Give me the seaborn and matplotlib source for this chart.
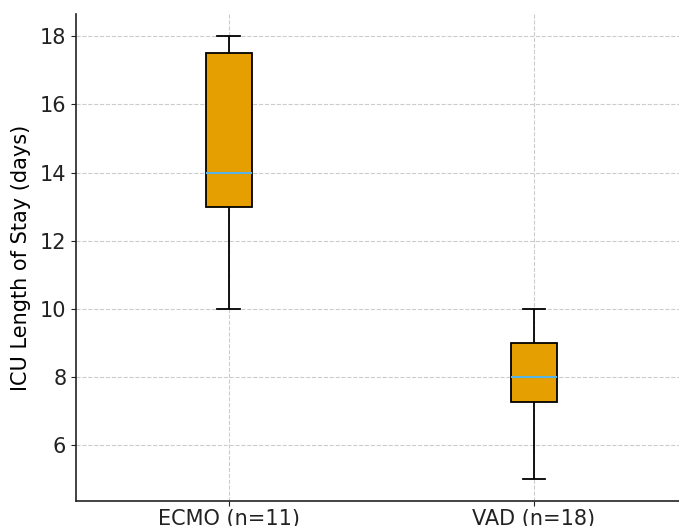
import numpy as np
import pandas as pd
import matplotlib
matplotlib.use("Agg")
import matplotlib.pyplot as plt
import seaborn as sns

# ICU length of stay (days)
groups = ["ECMO (n=11)", "VAD (n=18)"]
ecmo_days = [10, 12, 13, 13, 13.5, 14, 15, 17, 18, 18, 18]
vad_days = [5, 6, 6.5, 7, 7, 8, 8, 8, 8, 8, 8.5, 8.5, 9, 9, 9, 9.5, 10, 10]

df = pd.DataFrame({
    "group": [groups[0]] * len(ecmo_days) + [groups[1]] * len(vad_days),
    "days": ecmo_days + vad_days,
})

fig = plt.figure(figsize=(6.79, 5.26), dpi=100)
ax = fig.add_axes([0.112, 0.0475, 0.888, 0.9255])

sns.boxplot(data=df, x="group", y="days", order=groups, width=0.15,
            color="#E69F00", saturation=1, linecolor="black", linewidth=1.3,
            medianprops=dict(color="#56B4E9", linewidth=1.5),
            whis=1.5, showfliers=False, ax=ax)

ax.set_xlim(-0.5, 1.475)
ax.set_ylim(4.35, 18.65)
ax.set_xlabel("")
ax.set_ylabel("ICU Length of Stay (days)", fontsize=15, labelpad=6)
ax.tick_params(axis="both", labelsize=15, colors="#222222")
ax.tick_params(axis="x", pad=2)
ax.grid(True, linestyle="--", color="#cccccc", linewidth=0.8)
ax.set_axisbelow(True)
for s in ["top", "right"]:
    ax.spines[s].set_visible(False)
for s in ["left", "bottom"]:
    ax.spines[s].set_linewidth(1.2)
    ax.spines[s].set_color("#222222")

fig.savefig("out.png", dpi=100)
